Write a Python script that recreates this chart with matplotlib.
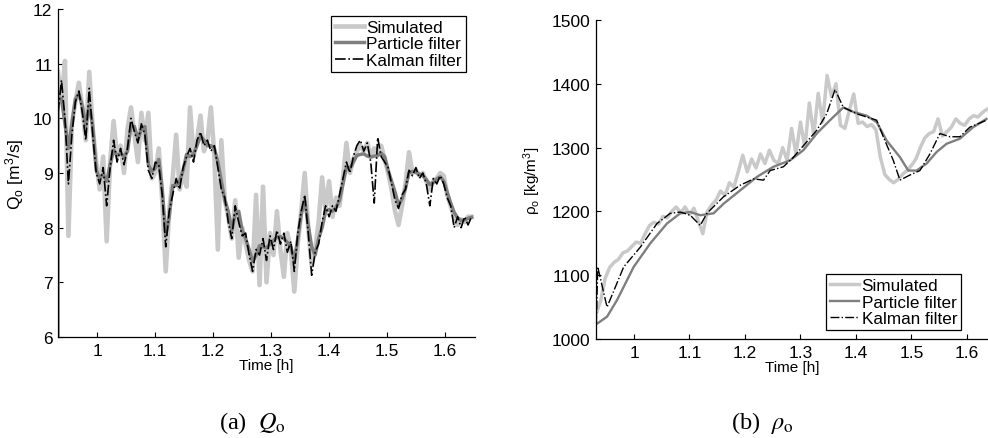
""" Flow rate and density estimates: simulated vs. particle filter vs. Kalman filter """
import matplotlib
matplotlib.use('Agg')
import matplotlib.pyplot as plt
import numpy as np

plt.rcParams['font.family'] = ['Liberation Sans', 'DejaVu Sans']
plt.rcParams['mathtext.fontset'] = 'custom'
plt.rcParams['mathtext.rm'] = 'Liberation Sans'
plt.rcParams['mathtext.it'] = 'Liberation Sans:italic'

LABELS = ['Simulated', 'Particle filter', 'Kalman filter']

# Q_o: all three series share one time grid [h]
q_t0, q_dt = 0.932, 0.006
q_sim = [10.85, 10.3, 11.05, 7.85, 9.9, 10.3, 10.65, 10.2, 9.6, 10.85,
         9.8, 9.2, 8.7, 9.3, 7.75, 9.2, 9.95, 9.3, 9.5, 9.0,
         9.8, 10.2, 9.7, 9.2, 10.1, 9.6, 10.1, 8.9, 9.0, 9.45,
         8.5, 7.2, 8.3, 8.9, 9.7, 8.7, 9.0, 8.75, 10.2, 9.3,
         9.6, 10.05, 9.4, 9.6, 10.2, 9.3, 7.6, 9.6, 8.5, 8.2,
         7.8, 8.5, 7.45, 8.0, 7.7, 7.4, 7.2, 8.6, 6.95, 8.75,
         7.0, 7.9, 7.5, 8.3, 7.6, 7.1, 7.9, 7.6, 6.83, 7.7,
         8.3, 9.0, 8.0, 7.3, 7.6, 8.1, 8.92, 8.3, 8.85, 8.2,
         8.55, 8.4, 8.9, 9.55, 9.0, 9.25, 9.4, 9.5, 9.4, 9.55,
         9.3, 9.45, 9.35, 9.5, 9.25, 9.0, 8.7, 8.3, 8.05, 8.4,
         8.8, 9.38, 9.0, 9.05, 8.95, 9.0, 8.85, 8.7, 8.85, 8.9,
         9.0, 8.95, 8.6, 8.4, 8.2, 8.05, 8.15, 8.1, 8.2, 8.2]
q_pf_start = 6.0
q_pf = [10.38, 10.36, 9.9, 9.45, 9.9, 10.35, 10.45, 10.22, 9.86, 10.25,
        9.85, 9.05, 8.9, 8.98, 8.85, 9.15, 9.42, 9.32, 9.36, 9.3,
        9.4, 9.85, 9.85, 9.62, 9.8, 9.85, 9.15, 9.03, 9.09, 9.25,
        8.7, 7.85, 8.2, 8.77, 8.77, 8.85, 9.05, 9.34, 9.3, 9.35,
        9.5, 9.68, 9.6, 9.5, 9.5, 9.45, 9.2, 8.85, 8.5, 8.3,
        7.95, 8.25, 8.3, 7.95, 7.8, 7.6, 7.38, 7.5, 7.67, 7.65,
        7.63, 7.7, 7.76, 7.83, 7.84, 7.8, 7.73, 7.65, 7.4, 7.8,
        8.25, 8.5, 8.05, 7.65, 7.5, 7.8, 8.0, 8.3, 8.33, 8.3,
        8.37, 8.5, 8.8, 9.1, 9.08, 9.2, 9.32, 9.34, 9.35, 9.31,
        9.29, 9.31, 9.32, 9.36, 9.3, 9.05, 8.85, 8.65, 8.41, 8.53,
        8.72, 9.0, 9.03, 9.01, 8.98, 8.95, 8.88, 8.79, 8.83, 8.89,
        8.93, 8.85, 8.65, 8.45, 8.28, 8.18, 8.13, 8.14, 8.17, 8.19]
q_kf = [10.1, 10.7, 10.0, 8.8, 9.7, 10.3, 10.5, 10.1, 9.6, 10.55,
        9.7, 9.0, 8.8, 9.1, 8.4, 9.1, 9.6, 9.2, 9.45, 9.15,
        9.45, 10.0, 9.75, 9.55, 9.9, 9.7, 9.05, 8.9, 9.2, 9.15,
        8.6, 7.65, 8.3, 8.6, 8.9, 8.7, 9.1, 9.3, 9.45, 9.2,
        9.6, 9.75, 9.5, 9.6, 9.4, 9.5, 9.1, 8.7, 8.55, 8.1,
        7.8, 8.4, 8.1, 7.85, 7.9, 7.5, 7.2, 7.6, 7.5, 7.8,
        7.4, 7.85, 7.6, 7.95, 7.7, 7.9, 7.55, 7.75, 7.2, 7.9,
        8.3, 8.6, 7.9, 7.13, 7.55, 7.7, 8.1, 8.4, 8.2, 8.4,
        8.3, 8.6, 8.9, 9.2, 9.0, 9.3, 9.5, 9.6, 9.4, 9.55,
        9.2, 8.45, 9.65, 9.3, 9.2, 9.1, 8.8, 8.5, 8.35, 8.6,
        8.7, 9.05, 8.95, 9.1, 8.9, 9.0, 8.8, 8.4, 8.9, 8.8,
        8.95, 8.8, 8.55, 8.4, 8.0, 8.2, 8.0, 8.2, 8.05, 8.2]

# rho_o: simulated on a regular grid, filters at their own sample times
rho_t0, rho_dt = 0.932, 0.008
rho_sim = [1040, 1060, 1095, 1112, 1120, 1125, 1135, 1138, 1145, 1152,
           1150, 1165, 1178, 1183, 1180, 1192, 1190, 1200, 1207, 1198,
           1207, 1195, 1205, 1185, 1165, 1200, 1210, 1218, 1232, 1225,
           1245, 1238, 1262, 1288, 1262, 1282, 1268, 1290, 1275, 1296,
           1280, 1275, 1300, 1280, 1330, 1290, 1340, 1300, 1370, 1320,
           1385, 1340, 1413, 1380, 1400, 1335, 1330, 1358, 1384, 1338,
           1340, 1333, 1336, 1328, 1285, 1258, 1250, 1245, 1250, 1258,
           1264, 1272, 1282, 1300, 1315, 1322, 1325, 1345, 1318, 1325,
           1332, 1345, 1338, 1335, 1345, 1350, 1348, 1355, 1360]
rho_pf_time = [0.9334, 0.9514, 0.9694, 0.9994, 1.0294, 1.0594, 1.0834, 1.1014,
               1.1194, 1.1434, 1.1614, 1.1914, 1.2214, 1.2514, 1.2813, 1.3053,
               1.3293, 1.3533, 1.3773, 1.3953, 1.4193, 1.4373, 1.4553, 1.4793,
               1.4943, 1.5093, 1.5273, 1.5453, 1.5633, 1.5873, 1.6113, 1.6353]
rho_pf = [1024, 1035, 1061, 1113, 1150, 1181, 1197, 1199,
          1194, 1197, 1212, 1233, 1254, 1270, 1280, 1296,
          1322, 1343, 1363, 1356, 1350, 1340, 1311, 1285,
          1264, 1264, 1275, 1293, 1306, 1314, 1332, 1345]
rho_kf_time = [0.9315, 0.9346, 0.9514, 0.9814, 1.0114, 1.0414, 1.0654, 1.0834,
               1.1014, 1.1194, 1.1314, 1.1614, 1.1914, 1.2154, 1.2334, 1.2453,
               1.2693, 1.2873, 1.3053, 1.3293, 1.3473, 1.3623, 1.3773, 1.4013,
               1.4193, 1.4373, 1.4493, 1.4673, 1.4793, 1.4973, 1.5153, 1.5333,
               1.5513, 1.5693, 1.5873, 1.6053, 1.6353]
rho_kf = [1000, 1113, 1050, 1113, 1144, 1181, 1197, 1199,
          1194, 1178, 1197, 1223, 1241, 1251, 1249, 1264,
          1270, 1285, 1303, 1327, 1353, 1391, 1363, 1353,
          1348, 1343, 1317, 1280, 1249, 1257, 1264, 1290,
          1322, 1317, 1317, 1332, 1343]

SIM_C, PF_C, KF_C = '#c9c9c9', '#7f7f7f', 'black'


def style_axes(ax, xlim, ylim, yticks):
    ax.set_xlim(*xlim)
    ax.set_ylim(*ylim)
    ax.set_xticks([1, 1.1, 1.2, 1.3, 1.4, 1.5, 1.6])
    ax.set_xticklabels(['1', '1.1', '1.2', '1.3', '1.4', '1.5', '1.6'])
    ax.set_yticks(yticks)
    for side in ('top', 'right'):
        ax.spines[side].set_visible(False)
    for side in ('left', 'bottom'):
        ax.spines[side].set_linewidth(0.9)
    ax.tick_params(direction='in', length=3.5, width=0.8, labelsize=12.5, pad=4)
    ax.set_xlabel('Time [h]', fontsize=11, labelpad=0)


def add_legend(ax, **kw):
    lgd = ax.legend(LABELS, fontsize=12.3, fancybox=False, framealpha=1, edgecolor='black',
                    handlelength=1.7, handletextpad=0.15, labelspacing=0.1,
                    borderpad=0.22, borderaxespad=0, **kw)
    lgd.get_frame().set_linewidth(0.9)


fig = plt.figure(figsize=(9.88, 4.39), dpi=100)

# Q_o panel
ax = fig.add_axes([58 / 988, 1 - 338 / 439, 417 / 988, 328 / 439])
q_time = q_t0 + q_dt * np.arange(len(q_sim))
ax.plot(q_time, q_sim, color=SIM_C, lw=3.3)
ax.plot(np.r_[q_t0, q_time], np.r_[q_pf_start, q_pf], color=PF_C, lw=2.5)
ax.plot(q_time, q_kf, color=KF_C, lw=1.2, ls='-.')
style_axes(ax, (0.932, 1.652), (6, 12), range(6, 13))
ax.set_ylabel(r'Q$_\mathrm{o}$ [m$^3$/s]', fontsize=12.5, labelpad=5)
add_legend(ax, loc='upper right', bbox_to_anchor=(0.978, 0.979))

# rho_o panel
ax = fig.add_axes([596 / 988, 1 - 340 / 439, 392 / 988, 319 / 439])
rho_time = rho_t0 + rho_dt * np.arange(len(rho_sim))
ax.plot(rho_time, rho_sim, color=SIM_C, lw=2.5)
ax.plot(rho_pf_time, rho_pf, color=PF_C, lw=1.7)
ax.plot(rho_kf_time, rho_kf, color=KF_C, lw=1.0, ls='-.')
style_axes(ax, (0.9315, 1.638), (1000, 1500), range(1000, 1501, 100))
ax.set_ylabel(r'ρ$_\mathrm{o}$ [kg/m$^3$]', fontsize=11, labelpad=6)
add_legend(ax, loc='lower right', bbox_to_anchor=(0.931, 0.028))

# subfigure captions
fig.text(252 / 988, 1 - 423 / 439, r'(a)  $Q_\mathrm{o}$', ha='center', va='center',
         family='Liberation Serif', fontsize=17.5, math_fontfamily='stix')
fig.text(762 / 988, 1 - 423 / 439, r'(b)  $\rho_\mathrm{o}$', ha='center', va='center',
         family='Liberation Serif', fontsize=17.5, math_fontfamily='stix')

fig.savefig('out.png', dpi=100)
plt.close(fig)
